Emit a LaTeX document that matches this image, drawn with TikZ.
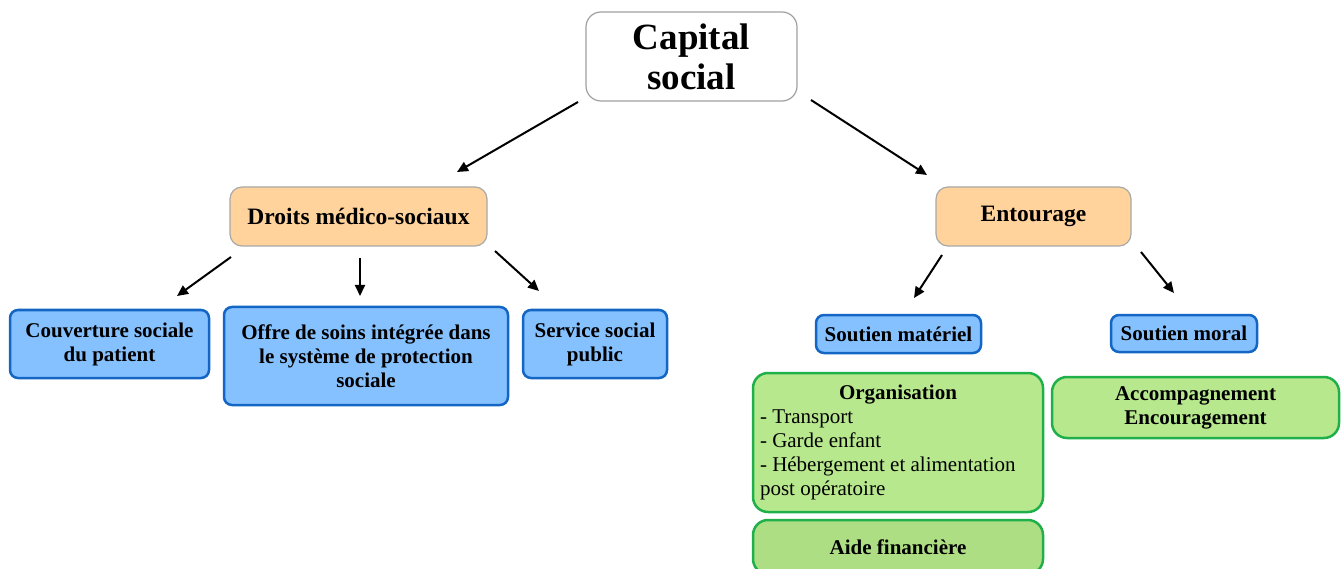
\documentclass[tikz,border=0pt]{standalone}
\usepackage{fontspec}
\setmainfont{Liberation Serif}
\usetikzlibrary{arrows.meta}
\definecolor{capborder}{HTML}{A0A0A0}
\definecolor{orfill}{HTML}{FFD39B}
\definecolor{orborder}{HTML}{A8A8A8}
\definecolor{blfill}{HTML}{85C1FF}
\definecolor{blborder}{HTML}{1466C4}
\definecolor{grfill}{HTML}{B8E88E}
\definecolor{grfilldark}{HTML}{AEDE84}
\definecolor{grborder}{HTML}{1FB04A}
\tikzset{
  capbox/.style={draw=capborder, line width=1.2pt, fill=white, rounded corners=15pt, align=center, inner sep=0pt,
    font=\fontsize{37}{40}\selectfont\bfseries},
  orbox/.style={draw=orborder, line width=1.2pt, fill=orfill, rounded corners=12pt, align=center, inner sep=0pt,
    font=\fontsize{23.5}{28}\selectfont\bfseries},
  blbox/.style={draw=blborder, line width=2.5pt, fill=blfill, rounded corners=8pt, align=center, inner sep=0pt,
    font=\fontsize{21}{24}\selectfont\bfseries},
  grbox/.style={draw=grborder, line width=2.5pt, fill=grfill, rounded corners=15pt, align=center, inner sep=0pt,
    font=\fontsize{21}{24}\selectfont},
  arr/.style={line width=2pt, -{Triangle[length=11pt,width=10pt]}}
}
\begin{document}
\begin{tikzpicture}[x=1pt,y=-1pt]
\clip (0,0) rectangle (1341,569);
\fill[white] (0,0) rectangle (1341,569);

\node[capbox, minimum width=211pt, minimum height=89pt] (cap) at (691.5,56.5) {Capital\\social};

\node[orbox, minimum width=257pt, minimum height=59pt] (droits) at (358.5,216.5) {Droits médico-sociaux};
\node[orbox, minimum width=195pt, minimum height=59pt] (ent) at (1033.5,216.5) {Entourage};

\node[blbox, minimum width=199pt, minimum height=68pt] (couv) at (109.5,344) {Couverture sociale\\du patient};
\node[blbox, minimum width=284pt, minimum height=98pt] (offre) at (366,356) {Offre de soins intégrée dans\\le système de protection\\sociale};
\node[blbox, minimum width=144pt, minimum height=68pt] (serv) at (595,344) {Service social\\public};

\node[blbox, minimum width=165pt, minimum height=38pt] (smat) at (898.5,334) {Soutien matériel};
\node[blbox, minimum width=146pt, minimum height=37pt] (smor) at (1184,333.5) {Soutien moral};

\node[grbox, minimum width=290pt, minimum height=139pt, align=left] (orga) at (898,442.5)
  {\makebox[276pt]{\bfseries Organisation}\\- Transport\\- Garde enfant\\- Hébergement et alimentation\\post opératoire};
\node[grbox, minimum width=287pt, minimum height=61pt, font=\fontsize{21}{24}\selectfont\bfseries] (acc) at (1195.5,407.5) {Accompagnement\\Encouragement};
\node[grbox, fill=grfilldark, minimum width=290pt, minimum height=54pt, font=\fontsize{21}{24}\selectfont\bfseries] (aide) at (898,547) {Aide financière};

\coordinate (c1s) at (578,102);  \coordinate (c1e) at (457,172);
\coordinate (c2s) at (811,100);  \coordinate (c2e) at (927,175);
\coordinate (d1s) at (231,257);  \coordinate (d1e) at (177,296);
\coordinate (d2s) at (360,258);  \coordinate (d2e) at (360,296);
\coordinate (d3s) at (495,251);  \coordinate (d3e) at (539,291);
\coordinate (e1s) at (942,255);  \coordinate (e1e) at (914,298);
\coordinate (e2s) at (1141,252); \coordinate (e2e) at (1174,293);

\draw[arr] (c1s) -- (c1e);
\draw[arr] (c2s) -- (c2e);
\draw[arr] (d1s) -- (d1e);
\draw[arr] (d2s) -- (d2e);
\draw[arr] (d3s) -- (d3e);
\draw[arr] (e1s) -- (e1e);
\draw[arr] (e2s) -- (e2e);
\end{tikzpicture}
\end{document}
